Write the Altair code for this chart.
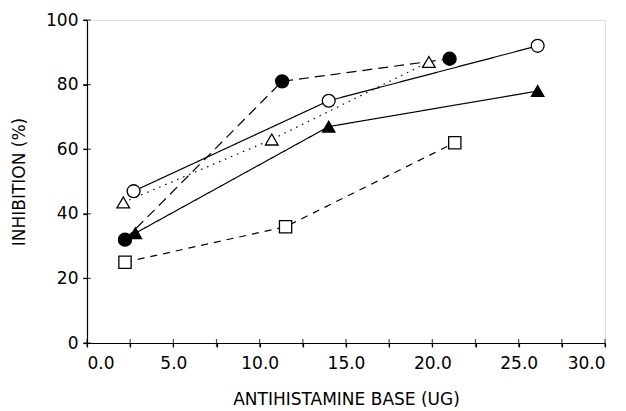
import altair as alt
import pandas as pd

series = ["filled_circle", "open_circle", "open_triangle", "filled_triangle", "open_square"]
x_filled_circle = [2.2, 11.3, 21.0]
y_filled_circle = [32, 81, 88]
x_open_circle = [2.7, 14.0, 26.1]
y_open_circle = [47, 75, 92]
x_open_triangle = [2.1, 10.7, 19.8]
y_open_triangle = [43.5, 63, 87]
x_filled_triangle = [2.8, 14.0, 26.1]
y_filled_triangle = [34, 67, 78]
x_open_square = [2.2, 11.5, 21.3]
y_open_square = [25, 36, 62]

x_ticks = [0, 2.5, 5, 7.5, 10, 12.5, 15, 17.5, 20, 22.5, 25, 27.5, 30]
y_ticks = [0, 20, 40, 60, 80, 100]

xs = [x_filled_circle, x_open_circle, x_open_triangle, x_filled_triangle, x_open_square]
ys = [y_filled_circle, y_open_circle, y_open_triangle, y_filled_triangle, y_open_square]
rows = []
for s, xv, yv in zip(series, xs, ys):
    for i, (a, b) in enumerate(zip(xv, yv)):
        rows.append({"series": s, "x": a, "y": b, "order": i})
df = pd.DataFrame(rows)
df_xt = pd.DataFrame({"x": x_ticks})
df_yt = pd.DataFrame({"y": y_ticks})

font = "DejaVu Sans"
common = dict(grid=False, domainColor="black", tickColor="black", labelColor="black",
              titleColor="black", labelFontSize=17, titleFontSize=17,
              titleFontWeight="normal", labelFont=font, titleFont=font,
              tickWidth=1.2, domainWidth=1.2)

x_scale = alt.Scale(domain=[0, 30], nice=False)
y_scale = alt.Scale(domain=[0, 100], nice=False)

x_enc = alt.X("x:Q", scale=x_scale,
              axis=alt.Axis(values=x_ticks, title="ANTIHISTAMINE BASE (UG)", orient="bottom",
                            labelExpr="datum.value % 5 == 0 ? format(datum.value, '.1f') : ''",
                            tickSize=4, labelPadding=8, titlePadding=20, **common))
y_enc = alt.Y("y:Q", scale=y_scale,
              axis=alt.Axis(values=y_ticks, title="INHIBITION (%)", orient="left",
                            tickSize=4, labelPadding=5, titlePadding=17, **common))

lines = alt.Chart(df).mark_line(color="black", strokeWidth=1.2).encode(
    x=x_enc, y=y_enc, order="order:O",
    detail="series:N",
    strokeDash=alt.StrokeDash("series:N", legend=None,
                              scale=alt.Scale(domain=series,
                                              range=[[10, 6], [1, 0], [1.5, 5], [1, 0], [7, 6]])),
)

points = alt.Chart(df).mark_point(filled=True, strokeWidth=1.3, stroke="black", opacity=1).encode(
    x=alt.X("x:Q"),
    y=alt.Y("y:Q"),
    shape=alt.Shape("series:N", legend=None,
                    scale=alt.Scale(domain=series,
                                    range=["circle", "circle", "triangle-up", "triangle-up", "square"])),
    fill=alt.Fill("series:N", legend=None,
                  scale=alt.Scale(domain=series, range=["black", "white", "white", "black", "white"])),
    size=alt.Size("series:N", legend=None,
                  scale=alt.Scale(domain=series, range=[170, 150, 130, 150, 190])),
)

# ticks crossing the axis lines, as in the original
x_cross = alt.Chart(df_xt).mark_tick(orient="vertical", size=8, thickness=1.2, color="black").encode(
    x=alt.X("x:Q"), y=alt.datum(0))
y_cross = alt.Chart(df_yt).mark_tick(orient="horizontal", size=8, thickness=1.2, color="black").encode(
    y=alt.Y("y:Q"), x=alt.datum(0))

chart = alt.layer(lines, x_cross, y_cross, points).properties(
    width=518, height=323,
    autosize=alt.AutoSizeParams(type="none"),
    padding={"left": 79, "top": 12, "right": 13, "bottom": 66},
).configure_view(stroke="black", strokeWidth=1.2).configure(background="white")

chart.save("out.html", embed_options={"renderer": "svg", "actions": False})
